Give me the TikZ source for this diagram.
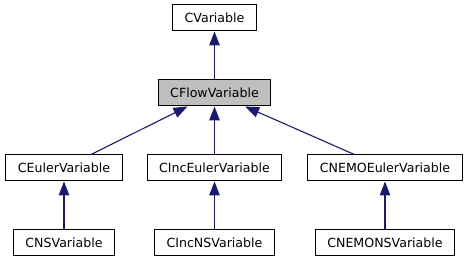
\documentclass[tikz,border=0pt]{standalone}
\usepackage{fontspec}
\setmainfont{DejaVu Sans}
\usepackage{xcolor}
\usepackage{tikz}
\usetikzlibrary{arrows}
\usetikzlibrary{arrows.meta}

\definecolor{edgeblue}{RGB}{25,25,112}
\definecolor{basegray}{RGB}{191,191,191}

\begin{document}
\begin{tikzpicture}[node distance=75pt,
	>={Triangle[width=10.5pt,length=14pt]},
    cls/.style = {rectangle, draw=black, line width=1pt,
                  minimum height=26pt, inner xsep=12pt, inner ysep=0pt,
                  text centered, font=\fontsize{12.6}{14}\selectfont, fill=white},
    base/.style = {cls, fill=basegray}]
  \useasboundingbox (0pt,0pt) rectangle (469pt,-261pt);

  \node (var) [cls] at (214.5pt,-18pt) {CVariable};
  \node (flow) [base, below of=var] {CFlowVariable};

  \node (inceuler) [cls, below of=flow] {CIncEulerVariable};
  \node (euler) [cls, left of=inceuler, node distance=150.5pt] {CEulerVariable};
  \node (nemoeuler) [cls, right of=inceuler, node distance=170.5pt] {CNEMOEulerVariable};

  \node (ns) [cls, below of=euler] {CNSVariable};
  \node (incns) [cls, below of=inceuler] {CIncNSVariable};
  \node (nemons) [cls, below of=nemoeuler] {CNEMONSVariable};

  \path[->,draw=edgeblue,fill=edgeblue,line width=1.1pt]
    (flow) edge (var)
    (euler) edge (flow)
    (inceuler) edge (flow)
    (nemoeuler) edge (flow)
    (ns) edge (euler)
    (incns) edge (inceuler)
    (nemons) edge (nemoeuler);
\end{tikzpicture}
\end{document}
